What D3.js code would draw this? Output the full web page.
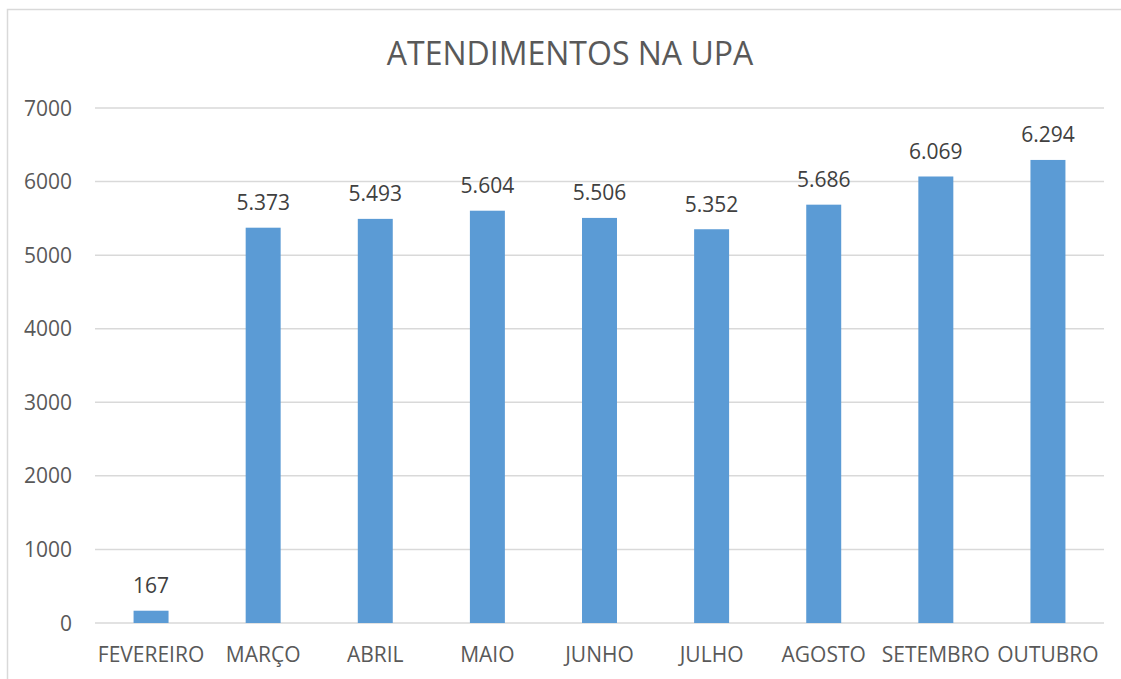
<!DOCTYPE html>
<html lang="pt">
<head>
<meta charset="UTF-8">
<title>Atendimentos na UPA</title>
<script src="https://d3js.org/d3.v7.min.js"></script>
<style>
    body { margin: 0; background: #fff; font-family: "Open Sans", Arial, sans-serif; }
</style>
</head>
<body>
<div id="chart"></div>
<script>
    // Data
    const months = ["FEVEREIRO", "MARÇO", "ABRIL", "MAIO", "JUNHO", "JULHO", "AGOSTO", "SETEMBRO", "OUTUBRO"];
    const visits = [167, 5373, 5493, 5604, 5506, 5352, 5686, 6069, 6294];
    const yTicks = [0, 1000, 2000, 3000, 4000, 5000, 6000, 7000];

    const W = 1121, H = 679;
    const plot = { left: 95, right: 1104, top: 108, bottom: 623 };

    const svg = d3.select("#chart").append("svg")
        .attr("width", W)
        .attr("height", H);

    // chart border
    svg.append("rect")
        .attr("x", 7.5).attr("y", 9.5)
        .attr("width", W + 10).attr("height", H + 10)
        .attr("fill", "none")
        .attr("stroke", "#d9d9d9")
        .attr("stroke-width", 1.5);

    const x = d3.scaleBand()
        .domain(months)
        .range([plot.left, plot.right])
        .padding(0);

    const y = d3.scaleLinear()
        .domain([0, 7000])
        .range([plot.bottom, plot.top]);

    const barW = x.bandwidth() * 0.312;

    // gridlines
    svg.append("g")
        .selectAll("line")
        .data(yTicks)
        .join("line")
        .attr("x1", plot.left).attr("x2", plot.right)
        .attr("y1", d => y(d)).attr("y2", d => y(d))
        .attr("stroke", "#d9d9d9")
        .attr("stroke-width", 1.5);

    // y tick labels
    svg.append("g")
        .selectAll("text")
        .data(yTicks)
        .join("text")
        .attr("x", 72)
        .attr("y", d => y(d) + 7.5)
        .attr("text-anchor", "end")
        .attr("fill", "#595959")
        .style("font-size", "21px")
        .text(d => d);

    // bars
    svg.append("g")
        .selectAll("rect")
        .data(visits)
        .join("rect")
        .attr("x", (d, i) => x(months[i]) + x.bandwidth() / 2 - barW / 2)
        .attr("width", barW)
        .attr("y", d => y(d))
        .attr("height", d => y(0) - y(d))
        .attr("fill", "#5b9bd5");

    // value labels (pt-BR thousands separator)
    const fmt = d3.formatLocale({ decimal: ",", thousands: ".", grouping: [3], currency: ["R$", ""] }).format(",");
    svg.append("g")
        .selectAll("text")
        .data(visits)
        .join("text")
        .attr("x", (d, i) => x(months[i]) + x.bandwidth() / 2)
        .attr("y", d => y(d) - 17.5)
        .attr("text-anchor", "middle")
        .attr("fill", "#404040")
        .style("font-size", "21px")
        .text(d => fmt(d));

    // category labels
    svg.append("g")
        .selectAll("text")
        .data(months)
        .join("text")
        .attr("x", d => x(d) + x.bandwidth() / 2)
        .attr("y", 662)
        .attr("text-anchor", "middle")
        .attr("fill", "#595959")
        .style("font-size", "21px")
        .text(d => d);

    // title
    svg.append("text")
        .attr("x", 570)
        .attr("y", 65)
        .attr("text-anchor", "middle")
        .attr("fill", "#595959")
        .style("font-size", "32px")
        .text("ATENDIMENTOS NA UPA");
</script>
</body>
</html>
